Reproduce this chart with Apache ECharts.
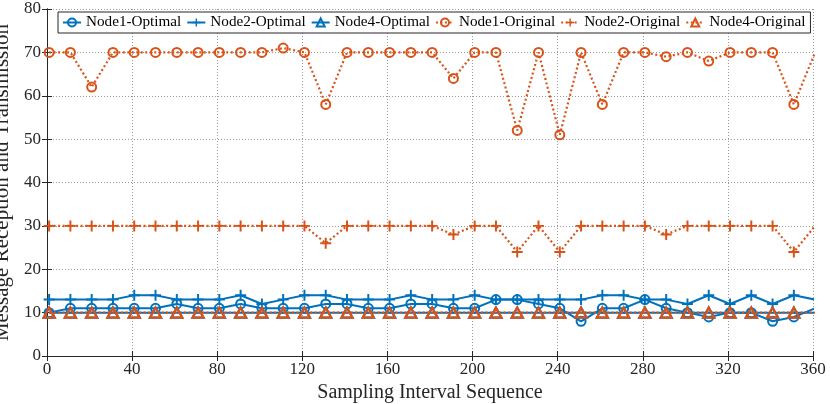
<!DOCTYPE html>
<html><head><meta charset="utf-8">
<script src="https://cdn.jsdelivr.net/npm/echarts@6/dist/echarts.min.js"></script>
<style>html,body{margin:0;padding:0;background:#fff}#c{width:830px;height:404px}</style>
</head><body><div id="c"></div>
<script>
var xs = [1,11,21,31,41,51,61,71,81,91,101,111,121,131,141,151,161,171,181,191,201,211,221,231,241,251,261,271,281,291,301,311,321,331,341,351,361];
var node1Opt = [10,11,11,11,11,11,12,11,11,12,11,11,11,12,12,11,11,12,12,11,11,13,13,12,11,8,11,11,13,11,10,9,10,10,8,9,11];
var node2Opt = [13,13,13,13,14,14,13,13,13,14,12,13,14,14,13,13,13,14,13,13,14,13,13,13,13,13,14,14,13,13,12,14,12,14,12,14,13];
var node4Opt = [10,10,10,10,10,10,10,10,10,10,10,10,10,10,10,10,10,10,10,10,10,10,10,10,10,10,10,10,10,10,10,10,10,10,10,10,10];
var node1Orig = [70,70,62,70,70,70,70,70,70,70,70,71,70,58,70,70,70,70,70,64,70,70,52,70,51,70,58,70,70,69,70,68,70,70,70,58,70];
var node2Orig = [30,30,30,30,30,30,30,30,30,30,30,30,30,26,30,30,30,30,30,28,30,30,24,30,24,30,30,30,30,28,30,30,30,30,30,24,30];
var node4Orig = [10,10,10,10,10,10,10,10,10,10,10,10,10,10,10,10,10,10,10,10,10,10,10,10,10,10,10,10,10,10,10,10,10,10,10,10,10];
var names = ['Node1-Optimal','Node2-Optimal','Node4-Optimal','Node1-Original','Node2-Original','Node4-Original'];

var BLUE = '#0072BD', ORANGE = '#D95319';
var FONT = '"Liberation Serif", "DejaVu Serif", serif';
var PLUS = 'path://M-1.8,-10 L1.8,-10 L1.8,10 L-1.8,10 Z M-10,-1.8 L10,-1.8 L10,1.8 L-10,1.8 Z';

function pairs(arr){ return xs.map(function(x,i){ return [x, arr[i]]; }); }
function mk(name, arr, color, marker, dotted){
  var s = {
    name: name, type: 'line', data: pairs(arr), clip: true, animation: false,
    lineStyle: {color: color, width: dotted ? 2.2 : 2, type: dotted ? [2,2.5] : 'solid'},
    symbolSize: 10, z: dotted ? 3 : 2
  };
  if (marker === 'circle') {
    s.symbol = 'circle'; s.symbolSize = 9;
    s.itemStyle = {color: 'rgba(255,255,255,0)', borderColor: color, borderWidth: 2};
  } else if (marker === 'plus') {
    s.symbol = PLUS; s.symbolSize = 11;
    s.itemStyle = {color: color, borderWidth: 0};
  } else {
    s.symbol = 'triangle'; s.symbolSize = [11,10];
    s.itemStyle = {color: 'rgba(255,255,255,0)', borderColor: color, borderWidth: 2.2};
  }
  return s;
}

var chart = echarts.init(document.getElementById('c'));
var axisLabel = {fontFamily: FONT, fontSize: 17, color: '#262626'};
chart.setOption({
  backgroundColor: '#fff',
  textStyle: {fontFamily: FONT},
  legend: {
    data: names, left: 58, top: 12, orient: 'horizontal', width: 790,
    itemWidth: 18, itemHeight: 10, itemGap: 5,
    padding: [3, 5, 3, 4],
    borderColor: '#262626', borderWidth: 1, backgroundColor: '#fff',
    textStyle: {fontFamily: FONT, fontSize: 15.2, color: '#000'}
  },
  grid: {left: 47, right: 17, top: 9, bottom: 48, containLabel: false, outerBoundsMode: 'none'},
  xAxis: [{
    type: 'value', min: 0, max: 360, interval: 40,
    name: 'Sampling Interval Sequence', nameLocation: 'middle', nameGap: 25,
    nameTextStyle: {fontFamily: FONT, fontSize: 20, color: '#262626'},
    axisLine: {show: true, lineStyle: {color: '#262626', width: 1}},
    axisTick: {show: true, inside: true, length: 5, lineStyle: {color: '#262626'}},
    axisLabel: Object.assign({margin: 5}, axisLabel),
    splitLine: {show: true, lineStyle: {color: '#999', type: [1,2], width: 1}}
  },{
    type: 'value', min: 0, max: 360, interval: 40, position: 'top',
    axisLine: {show: true, lineStyle: {color: '#262626', width: 1}},
    axisTick: {show: true, inside: true, length: 5, lineStyle: {color: '#262626'}},
    axisLabel: {show: false}, splitLine: {show: false}
  }],
  yAxis: [{
    type: 'value', min: 0, max: 80, interval: 10,
    name: 'Message Reception and Transmission', nameLocation: 'middle', nameGap: 28,
    nameTextStyle: {fontFamily: FONT, fontSize: 21, color: '#262626'},
    axisLine: {show: true, lineStyle: {color: '#262626', width: 1}},
    axisTick: {show: true, inside: true, length: 5, lineStyle: {color: '#262626'}},
    axisLabel: Object.assign({margin: 6}, axisLabel),
    splitLine: {show: true, lineStyle: {color: '#999', type: [1,2], width: 1}}
  },{
    type: 'value', min: 0, max: 80, interval: 10, position: 'right',
    axisLine: {show: true, lineStyle: {color: '#262626', width: 1}},
    axisTick: {show: true, inside: true, length: 5, lineStyle: {color: '#262626'}},
    axisLabel: {show: false}, splitLine: {show: false}
  }],
  series: [
    mk(names[0], node1Opt, BLUE, 'circle', false),
    mk(names[1], node2Opt, BLUE, 'plus', false),
    mk(names[2], node4Opt, BLUE, 'triangle', false),
    mk(names[3], node1Orig, ORANGE, 'circle', true),
    mk(names[4], node2Orig, ORANGE, 'plus', true),
    mk(names[5], node4Orig, ORANGE, 'triangle', true)
  ]
});
</script></body></html>
